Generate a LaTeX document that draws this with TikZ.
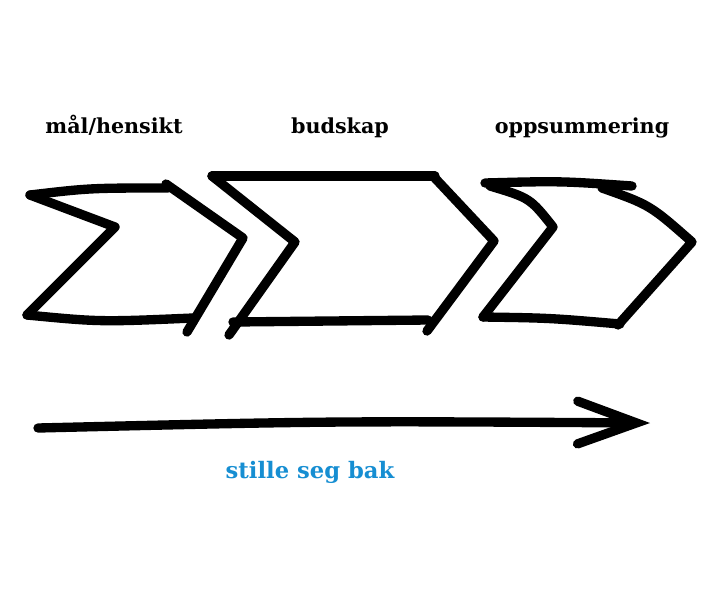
\documentclass[tikz,border=0pt]{standalone}
\usepackage{fontspec}
\setmainfont{DejaVu Serif}
\usetikzlibrary{arrows.meta}
\definecolor{signblue}{RGB}{22,142,210}
\tikzset{
    pen/.style={line width=7pt, line cap=round, line join=round},
    steplabel/.style={anchor=base, font=\fontsize{15.5}{18}\selectfont\bfseries},
}

\begin{document}
\begin{tikzpicture}[x=0.75pt, y=-0.75pt]
    \useasboundingbox (0,0) rectangle (710,600);

    % Step labels
    \node[steplabel] (goal) at (114,133) {mål/hensikt};
    \node[steplabel] (message) at (340,133) {budskap};
    \node[steplabel] (summary) at (582,133) {oppsummering};

    % First chevron
    \draw[pen] (30,195) .. controls (90,188) .. (168,188);
    \draw[pen] (166,184) -- (243,238) -- (187,332);
    \draw[pen] (30,195) -- (115,227) -- (27,315);
    \draw[pen] (27,315) .. controls (100,322) .. (193,318);

    % Second chevron
    \draw[pen] (212,176) -- (435,176);
    \draw[pen] (433,176) -- (494,241) -- (427,331);
    \draw[pen] (212,176) -- (295,242) -- (229,335);
    \draw[pen] (233,322) -- (428,320);

    % Third chevron
    \draw[pen] (485,183) .. controls (560,181) .. (632,186);
    \draw[pen] (602,188) .. controls (650,205) .. (692,242) -- (618,325);
    \draw[pen] (490,186) .. controls (530,198) .. (553,227) -- (483,317);
    \draw[pen] (483,317) .. controls (550,318) .. (620,324);

    % Time arrow
    \coordinate (start) at (38,428);
    \coordinate (end) at (650,423);
    \draw[pen, -{Straight Barb[length=44pt, width=32pt, line cap=round]}] (start) .. controls (330,421) .. (end);

    % Caption
    \node[anchor=base, text=signblue, font=\fontsize{17}{20}\selectfont\bfseries] (caption) at (310,478) {stille seg bak};
\end{tikzpicture}
\end{document}
